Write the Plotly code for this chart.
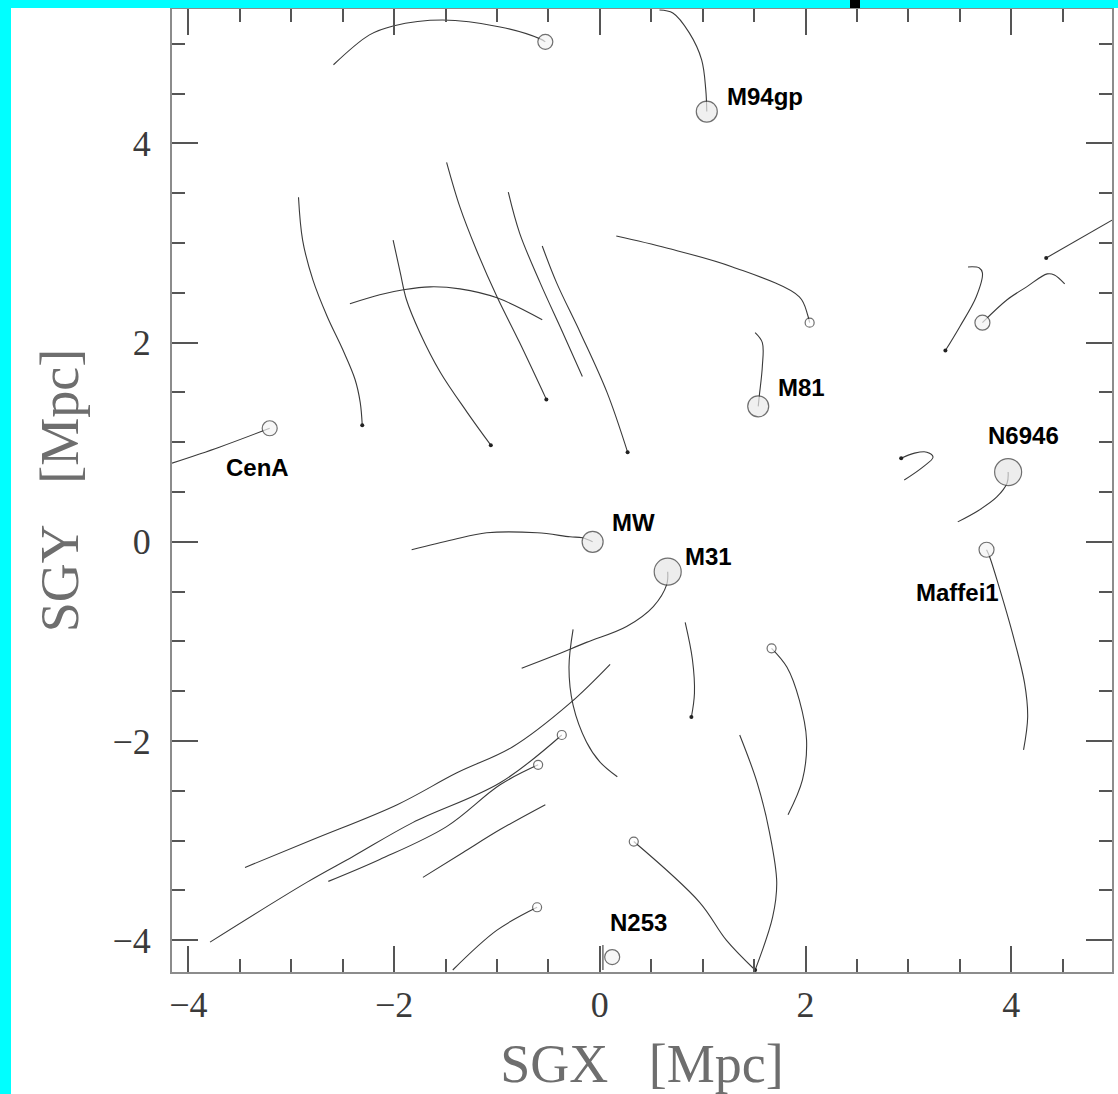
import plotly.graph_objects as go

# ---------------- data (SGX, SGY in Mpc) ----------------
# trajectories (orbits) of the Local Volume galaxies
track_topleft_x = [-2.59, -2.24, -2.01, -1.53, -0.97, -0.58, -0.53]
track_topleft_y = [4.79, 5.09, 5.18, 5.24, 5.17, 5.05, 5.02]

track_m94_x = [0.58, 0.71, 0.87, 0.99, 1.03, 1.04]
track_m94_y = [5.34, 5.31, 5.11, 4.84, 4.54, 4.32]

track_a_x = [0.16, 0.65, 1.29, 1.94, 2.02, 2.04]
track_a_y = [3.07, 2.95, 2.76, 2.46, 2.28, 2.20]

track_m81_x = [1.51, 1.58, 1.58, 1.55, 1.54]
track_m81_y = [2.10, 2.00, 1.76, 1.46, 1.36]

track_b_x = [4.98, 4.34]
track_b_y = [3.23, 2.85]

track_c_x = [3.72, 3.96, 4.15, 4.35, 4.42, 4.52]
track_c_y = [2.20, 2.43, 2.56, 2.69, 2.68, 2.59]

track_d_x = [3.36, 3.50, 3.66, 3.72, 3.69, 3.58]
track_d_y = [1.92, 2.16, 2.46, 2.70, 2.75, 2.76]

track_cena_x = [-4.16, -3.70, -3.21]
track_cena_y = [0.79, 0.95, 1.14]

track_e_x = [-2.93, -2.89, -2.79, -2.65, -2.50, -2.38, -2.33, -2.31]
track_e_y = [3.46, 3.03, 2.63, 2.26, 1.93, 1.63, 1.40, 1.17]

track_f_x = [-2.43, -2.14, -1.91, -1.65, -1.36, -1.00, -0.56]
track_f_y = [2.39, 2.48, 2.53, 2.56, 2.54, 2.45, 2.23]

track_g_x = [-2.01, -1.94, -1.88, -1.75, -1.55, -1.29, -1.06]
track_g_y = [3.03, 2.70, 2.43, 2.10, 1.70, 1.30, 0.97]

track_h_x = [-1.49, -1.36, -1.20, -1.00, -0.78, -0.52]
track_h_y = [3.81, 3.36, 2.93, 2.46, 2.00, 1.43]

track_i_x = [-0.89, -0.78, -0.58, -0.36, -0.17]
track_i_y = [3.51, 3.10, 2.60, 2.10, 1.66]

track_j_x = [-0.56, -0.42, -0.19, 0.07, 0.27]
track_j_y = [2.97, 2.60, 2.10, 1.50, 0.90]

track_mw_x = [-1.83, -1.43, -1.10, -0.61, -0.29, -0.17, -0.07]
track_mw_y = [-0.08, 0.02, 0.09, 0.09, 0.05, 0.04, 0.00]

track_m31_x = [0.66, 0.65, 0.52, 0.26, -0.13, -0.46, -0.76]
track_m31_y = [-0.30, -0.43, -0.65, -0.85, -1.01, -1.15, -1.27]

track_k_x = [-0.26, -0.30, -0.26, -0.13, 0.00, 0.17]
track_k_y = [-0.88, -1.26, -1.64, -2.01, -2.21, -2.36]

track_l_x = [-3.45, -2.79, -1.97, -1.39, -0.85, -0.29, 0.10]
track_l_y = [-3.27, -2.99, -2.64, -2.32, -2.06, -1.62, -1.23]

track_m_x = [-3.79, -2.85, -2.40, -1.82, -0.97, -0.37]
track_m_y = [-4.02, -3.42, -3.16, -2.82, -2.42, -1.94]

track_n_x = [-2.64, -2.14, -1.49, -0.97, -0.60]
track_n_y = [-3.41, -3.19, -2.86, -2.44, -2.24]

track_o_x = [-1.72, -1.33, -0.97, -0.53]
track_o_y = [-3.37, -3.12, -2.89, -2.64]

track_p_x = [-0.61, -1.00, -1.43]
track_p_y = [-3.67, -3.90, -4.30]

track_q_x = [0.83, 0.90, 0.92, 0.89]
track_q_y = [-0.81, -1.18, -1.52, -1.76]

track_r_x = [1.67, 1.82, 1.94, 2.01, 1.97, 1.83]
track_r_y = [-1.07, -1.26, -1.59, -1.99, -2.39, -2.74]

track_s_x = [1.36, 1.53, 1.65, 1.72, 1.68, 1.51]
track_s_y = [-1.94, -2.42, -2.92, -3.42, -3.77, -4.30]

track_t_x = [0.33, 0.97, 1.23, 1.51]
track_t_y = [-3.01, -3.62, -4.00, -4.30]

track_n253_x = [0.03, 0.03]
track_n253_y = [-4.05, -4.30]

track_n6946_x = [3.97, 3.96, 3.86, 3.69, 3.48]
track_n6946_y = [0.70, 0.59, 0.45, 0.32, 0.20]

track_u_x = [2.93, 3.06, 3.18, 3.24, 3.14, 2.96]
track_u_y = [0.84, 0.89, 0.90, 0.85, 0.75, 0.62]

track_maffei_x = [3.76, 3.79, 3.89, 4.01, 4.13, 4.16, 4.12]
track_maffei_y = [-0.08, -0.15, -0.48, -0.91, -1.42, -1.76, -2.09]

tracks = [
    (track_topleft_x, track_topleft_y), (track_m94_x, track_m94_y),
    (track_a_x, track_a_y), (track_m81_x, track_m81_y),
    (track_b_x, track_b_y), (track_c_x, track_c_y), (track_d_x, track_d_y),
    (track_cena_x, track_cena_y), (track_e_x, track_e_y), (track_f_x, track_f_y),
    (track_g_x, track_g_y), (track_h_x, track_h_y), (track_i_x, track_i_y),
    (track_j_x, track_j_y), (track_mw_x, track_mw_y), (track_m31_x, track_m31_y),
    (track_k_x, track_k_y), (track_l_x, track_l_y), (track_m_x, track_m_y),
    (track_n_x, track_n_y), (track_o_x, track_o_y), (track_p_x, track_p_y),
    (track_q_x, track_q_y), (track_r_x, track_r_y), (track_s_x, track_s_y),
    (track_t_x, track_t_y), (track_n253_x, track_n253_y),
    (track_n6946_x, track_n6946_y), (track_u_x, track_u_y),
    (track_maffei_x, track_maffei_y),
]

# present-day galaxy positions (circles)
galaxy_x = [-0.53, 1.04, 2.04, 1.54, 3.72, -3.21, -0.07, 0.66, 3.97, 3.76,
            1.67, -0.37, -0.60, -0.61, 0.33, 0.12]
galaxy_y = [5.02, 4.32, 2.20, 1.36, 2.20, 1.14, 0.00, -0.30, 0.70, -0.08,
            -1.07, -1.94, -2.24, -3.67, -3.01, -4.17]
galaxy_mass_class = [2, 3, 1, 3, 2, 2, 3, 4, 4, 2, 1, 1, 1, 1, 1, 2]

# small dots (track end points)
dot_x = [-2.31, -1.06, 3.36, 4.34, 2.93, 0.89, 1.51, -0.52, 0.27]
dot_y = [1.17, 0.97, 1.92, 2.85, 0.84, -1.76, -4.30, 1.43, 0.90]

# labels
label_text = ["M94gp", "M81", "CenA", "MW", "M31", "N6946", "Maffei1", "N253"]
label_x = [1.61, 1.96, -3.33, 0.33, 1.06, 4.12, 3.48, 0.38]
label_y = [4.47, 1.55, 0.75, 0.19, -0.15, 1.07, -0.51, -3.82]

x_ticks = [-4, -2, 0, 2, 4]
y_ticks = [-4, -2, 0, 2, 4]

# ---------------- styles ----------------
size_by_class = {1: 9, 2: 15, 3: 21, 4: 27}
fill_by_class = {1: "white", 2: "#f4f4f4", 3: "#ebebeb", 4: "#e6e6e6"}

W, H = 1118, 1094
ML, MR, MT, MB = 172, 6, 9, 122
PW, PH = W - ML - MR, H - MT - MB


def px_x(p):
    return (p - ML) / PW


def px_y(p):
    return (H - MB - p) / PH


fig = go.Figure()

for tx, ty in tracks:
    fig.add_trace(go.Scatter(
        x=tx, y=ty, mode="lines", line=dict(color="#3a3a3a", width=1.1,
                                            shape="spline", smoothing=1.0),
        hoverinfo="skip", showlegend=False))

fig.add_trace(go.Scatter(
    x=dot_x, y=dot_y, mode="markers",
    marker=dict(size=4, color="#222"), showlegend=False, hoverinfo="skip"))

fig.add_trace(go.Scatter(
    x=galaxy_x, y=galaxy_y, mode="markers",
    marker=dict(size=[size_by_class[c] for c in galaxy_mass_class],
                color=[fill_by_class[c] for c in galaxy_mass_class],
                line=dict(color="#333", width=1.2)),
    showlegend=False, hoverinfo="skip"))

for t, x, y in zip(label_text, label_x, label_y):
    fig.add_annotation(x=x, y=y, xref="x", yref="y", text="<b>%s</b>" % t,
                       showarrow=False, xanchor="center", yanchor="middle",
                       font=dict(family="Liberation Sans, Arial", size=24,
                                 color="black"))

axis_common = dict(
    showgrid=False, zeroline=False, showline=True, linecolor="#8c8c8c",
    linewidth=2, mirror="allticks", ticks="inside", ticklen=26, tickwidth=1.5,
    tickcolor="#555",
    tickfont=dict(family="Liberation Serif, DejaVu Serif", size=36, color="#3a3a3a"),
    minor=dict(ticks="inside", ticklen=13, tickwidth=1.5, tickcolor="#555", dtick=0.5),
    title_font=dict(family="Liberation Serif, DejaVu Serif", size=54, color="#6e6e6e"),
)

fig.update_xaxes(range=[-4.16, 4.98], tickvals=x_ticks, **axis_common,
                 ticklabelstandoff=0,
                 title_text="SGX\u00a0\u00a0\u00a0[Mpc]", title_standoff=24)
fig.update_yaxes(range=[-4.32, 5.35], tickvals=y_ticks, **axis_common,
                 ticklabelstandoff=12,
                 title_text="SGY\u00a0\u00a0\u00a0[Mpc]", title_standoff=17)

shapes = [
    # white page area inside the cyan frame (frame = paper background)
    dict(type="rect", xref="paper", yref="paper", x0=px_x(11), x1=px_x(W + 4),
         y0=px_y(H + 4), y1=px_y(8), fillcolor="white", line_width=0, layer="below"),
    # top cyan band and the small black mark in it
    dict(type="rect", xref="paper", yref="paper", x0=px_x(-2), x1=px_x(W + 2),
         y0=px_y(8), y1=px_y(-2), fillcolor="#00ffff", line_width=0, layer="above"),
    dict(type="rect", xref="paper", yref="paper", x0=px_x(850), x1=px_x(860),
         y0=px_y(8), y1=px_y(-2), fillcolor="black", line_width=0, layer="above"),
]

fig.update_layout(
    width=W, height=H, margin=dict(l=ML, r=MR, t=MT, b=MB, autoexpand=False),
    paper_bgcolor="#00ffff", plot_bgcolor="white", shapes=shapes,
    showlegend=False,
)

fig.write_html("out.html", config={"displayModeBar": False},
               post_script="document.body.style.margin='0';"
                           "document.body.style.overflow='hidden';")
